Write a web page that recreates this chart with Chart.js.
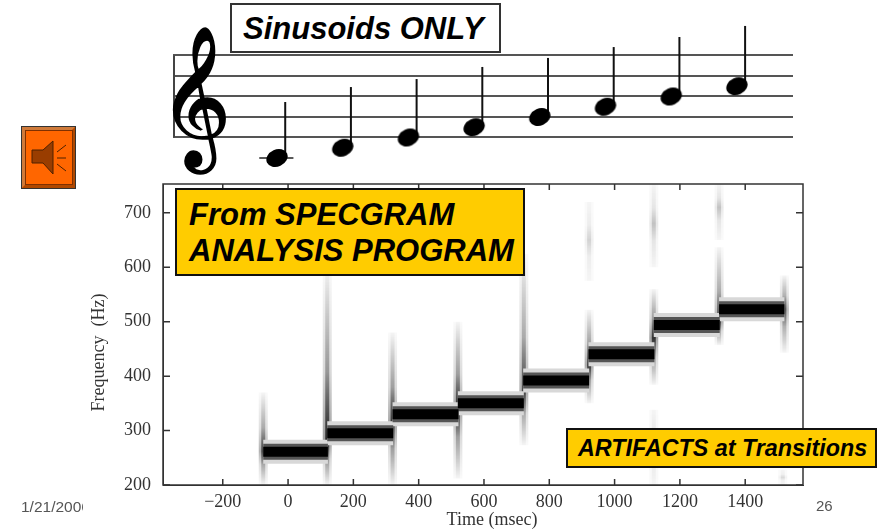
<!DOCTYPE html>
<html lang="en">

<head>
    <meta charset="UTF-8">
    <title>Sinusoids ONLY</title>
    <script src="https://cdn.jsdelivr.net/npm/chart.js"></script>
    <style>
        html,
        body {
            margin: 0;
            padding: 0;
            width: 886px;
            height: 531px;
            overflow: hidden;
            background: #fff;
            font-family: 'Liberation Sans', Arial, sans-serif;
        }

        canvas {
            position: absolute;
            filter: blur(0.4px);
        }

        #spec_canvas {
            left: 0;
            top: 0;
        }

        #staff_canvas {
            left: 173px;
            top: 20px;
        }

        .label-box {
            position: absolute;
            box-sizing: border-box;
            font-weight: bold;
            font-style: italic;
            color: #000;
            white-space: nowrap;
        }

        #box_title {
            left: 230px;
            top: 3px;
            width: 271px;
            height: 50px;
            background: #fff;
            border: 2px solid #333;
            font-size: 31px;
            line-height: 48px;
            padding-left: 11px;
        }

        #box_specgram {
            left: 175px;
            top: 188px;
            width: 350px;
            height: 88px;
            background: #ffcc00;
            border: 2px solid #111;
            font-size: 31px;
            line-height: 36px;
            padding: 7px 0 0 12px;
        }

        #box_artifacts {
            left: 566px;
            top: 428px;
            width: 311px;
            height: 40px;
            background: #ffcc00;
            border: 2px solid #111;
            font-size: 23.3px;
            line-height: 36px;
            padding-left: 10px;
        }

        #slide_date {
            position: absolute;
            left: 21px;
            top: 498px;
            width: 62px;
            overflow: hidden;
            font-size: 15.5px;
            color: #555;
            white-space: nowrap;
        }

        #slide_num {
            position: absolute;
            left: 816px;
            top: 497px;
            font-size: 15px;
            color: #555;
        }

        #clef {
            position: absolute;
            left: 159px;
            top: 11px;
            font-family: 'DejaVu Sans', sans-serif;
            font-size: 122px;
            line-height: 170px;
            color: #000;
            -webkit-text-stroke: 1.6px #000;
        }

        #speaker {
            position: absolute;
            left: 21px;
            top: 126px;
        }
    </style>
</head>

<body>
    <canvas id="spec_canvas" width="886" height="531"></canvas>
    <canvas id="staff_canvas" width="620" height="160"></canvas>
    <div id="clef">&#x1D11E;</div>

    <svg id="speaker" width="55" height="63" viewBox="0 0 55 63">
        <rect x="0.5" y="0.5" width="54" height="62" fill="#ff6600" stroke="#333" />
        <path d="M1 1H54L50 5H5V58L1 62Z" fill="#cf7a3a" />
        <path d="M54 1V62H1L5 58H50V5Z" fill="#b04800" />
        <rect x="4.5" y="4.5" width="47" height="54" fill="#ff6600" stroke="#803000" />
        <path d="M11 24H22L32 15V48L22 37H11Z" fill="#993d00" stroke="#4d2000" />
        <path d="M36 26L45 19M36 32H45M36 38L45 45" stroke="#4d2000" fill="none" />
    </svg>

    <div class="label-box" id="box_title">Sinusoids ONLY</div>
    <div class="label-box" id="box_specgram">From SPECGRAM<br>ANALYSIS PROGRAM</div>
    <div class="label-box" id="box_artifacts">ARTIFACTS at Transitions</div>
    <div id="slide_date">1/21/2006</div>
    <div id="slide_num">26</div>

    <script>
        // spectrogram: one row per note, time in msec and frequency in Hz
        const noteStart = [-76, 120, 320, 520, 720, 920, 1120, 1320];
        const noteEnd = [122, 322, 522, 722, 922, 1122, 1322, 1520];
        const noteFreq = [261, 295, 330, 350, 392, 440, 494, 523];

        // artifacts at the transitions: vertical smears
        const smearTime = [-76, 120, 320, 520, 722, 922, 922, 1120, 1120, 1120, 1320, 1320, 1520, 1515];
        const smearLow = [200, 200, 200, 212, 273, 350, 575, 200, 384, 600, 457, 650, 443, 200];
        const smearHigh = [370, 600, 480, 500, 625, 522, 720, 338, 560, 753, 637, 753, 585, 228];
        const smearPeak = [262, 280, 312, 340, 370, 420, 650, 270, 470, 680, 500, 710, 523, 214];
        const smearDark = [0.6, 0.75, 0.7, 0.7, 0.6, 0.65, 0.12, 0.14, 0.7, 0.17, 0.6, 0.17, 0.55, 0.1];

        const xTicks = [-200, 0, 200, 400, 600, 800, 1000, 1200, 1400];
        const yTicks = [200, 300, 400, 500, 600, 700];

        // staff: y is in staff lines above the bottom one, x is in beats
        const staffLines = [0, 1, 2, 3, 4];
        const noteBeat = [0, 1, 2, 3, 4, 5, 6, 7];
        const notePitch = [-1, -0.5, 0, 0.5, 1, 1.5, 2, 2.5];
        const stemTop = [1.73, 2.46, 2.85, 3.44, 3.88, 4.41, 4.9, 5.44];

        const inkColor = '#333';
        const tickFont = { family: "'Liberation Serif', serif", size: 18 };

        function segment(x0, y0, x1, y1, width, color) {
            return {
                data: [{ x: x0, y: y0 }, { x: x1, y: y1 }],
                borderColor: color,
                borderWidth: width,
                borderCapStyle: 'butt',
                pointRadius: 0,
                fill: false
            };
        }

        function smearColor(i, scale) {
            return function (context) {
                const yScale = context.chart.scales.y;
                if (!yScale || !yScale.height) return '#ccc';
                const top = yScale.getPixelForValue(smearHigh[i]);
                const bottom = yScale.getPixelForValue(smearLow[i]);
                const peak = yScale.getPixelForValue(smearPeak[i]);
                const gradient = context.chart.ctx.createLinearGradient(0, top, 0, bottom);
                const a = smearDark[i] * scale;
                const p = (peak - top) / (bottom - top);
                gradient.addColorStop(0, 'rgba(0,0,0,0.02)');
                gradient.addColorStop(p * 0.6, `rgba(0,0,0,${a * 0.4})`);
                gradient.addColorStop(p, `rgba(0,0,0,${a})`);
                gradient.addColorStop(p + (1 - p) * 0.4, `rgba(0,0,0,${a * 0.4})`);
                gradient.addColorStop(1, 'rgba(0,0,0,0.02)');
                return gradient;
            };
        }

        function specDatasets() {
            const sets = [];
            // first dataset is painted last, so the black core goes first
            noteFreq.forEach((f, i) => sets.push(segment(noteStart[i], f, noteEnd[i], f, 10, '#000')));
            noteFreq.forEach((f, i) => sets.push(segment(noteStart[i], f, noteEnd[i], f, 16, '#555')));
            noteFreq.forEach((f, i) => sets.push(segment(noteStart[i], f, noteEnd[i], f, 24, '#d8d8d8')));
            smearTime.forEach((t, i) => sets.push(segment(t, smearLow[i], t, smearHigh[i], 4, smearColor(i, 1))));
            smearTime.forEach((t, i) => sets.push(segment(t, smearLow[i], t, smearHigh[i], 9, smearColor(i, 0.5))));
            return sets;
        }

        // ticks point inward on all four sides, and the frame is closed
        const frameTicks = {
            id: 'frameTicks',
            afterDraw(chart) {
                const { ctx, chartArea: a, scales } = chart;
                ctx.save();
                ctx.strokeStyle = inkColor;
                ctx.lineWidth = 1.5;
                ctx.strokeRect(a.left, a.top, a.width, a.height);
                ctx.beginPath();
                scales.x.ticks.forEach(t => {
                    const px = scales.x.getPixelForValue(t.value);
                    ctx.moveTo(px, a.bottom); ctx.lineTo(px, a.bottom - 6);
                    ctx.moveTo(px, a.top); ctx.lineTo(px, a.top + 6);
                });
                scales.y.ticks.forEach(t => {
                    const py = scales.y.getPixelForValue(t.value);
                    ctx.moveTo(a.left, py); ctx.lineTo(a.left + 7, py);
                    ctx.moveTo(a.right, py); ctx.lineTo(a.right - 7, py);
                });
                ctx.stroke();
                ctx.restore();
            }
        };

        new Chart(document.getElementById('spec_canvas'), {
            type: 'line',
            data: { datasets: specDatasets() },
            plugins: [frameTicks],
            options: {
                responsive: false,
                animation: false,
                layout: { autoPadding: false, padding: { left: 85, right: 83, top: 184, bottom: 0 } },
                plugins: { legend: { display: false }, tooltip: { enabled: false } },
                scales: {
                    x: {
                        type: 'linear',
                        min: -383,
                        max: 1577,
                        afterBuildTicks(scale) { scale.ticks = xTicks.map(v => ({ value: v })); },
                        afterFit(scale) { scale.height = 46; },
                        grid: { drawOnChartArea: false, drawTicks: false },
                        border: { color: inkColor },
                        title: {
                            display: true,
                            // leading spaces push the centred title right of the plot centre
                            text: '    Time (msec)',
                            color: inkColor,
                            font: tickFont,
                            padding: { top: 0, bottom: 0 }
                        },
                        ticks: {
                            autoSkip: false,
                            maxRotation: 0,
                            padding: 6,
                            color: inkColor,
                            font: tickFont,
                            callback: value => String(value).replace('-', '\u2212')
                        }
                    },
                    y: {
                        type: 'linear',
                        min: 200,
                        max: 753,
                        afterBuildTicks(scale) { scale.ticks = yTicks.map(v => ({ value: v })); },
                        afterFit(scale) { scale.width = 78; },
                        grid: { drawOnChartArea: false, drawTicks: false },
                        border: { color: inkColor },
                        title: {
                            display: true,
                            // trailing spaces push the rotated title below the plot centre
                            text: 'Frequency  (Hz)        ',
                            color: inkColor,
                            font: tickFont,
                            padding: { top: 3, bottom: 11 }
                        },
                        ticks: {
                            padding: 12,
                            color: inkColor,
                            font: tickFont
                        }
                    }
                }
            }
        });

        // note head is a tilted ellipse, used as the point image
        function noteHead() {
            const c = document.createElement('canvas');
            c.width = 24;
            c.height = 22;
            const g = c.getContext('2d');
            g.fillStyle = '#000';
            g.ellipse(12, 11, 11, 8.5, -0.42, 0, 2 * Math.PI);
            g.fill();
            return c;
        }

        function staffDatasets() {
            const head = noteHead();
            const sets = [{
                data: noteBeat.map((b, i) => ({ x: b, y: notePitch[i] })),
                showLine: false,
                pointStyle: head,
                pointRadius: 11
            }];
            // stems sit on the right edge of the head
            noteBeat.forEach((b, i) => sets.push(segment(b + 0.125, notePitch[i], b + 0.125, stemTop[i], 2, '#111')));
            // ledger line under the first note and the bar line at the left end of the staff
            sets.push(segment(-0.27, -1, 0.25, -1, 1.5, '#222'));
            sets.push(segment(-1.583, 0, -1.583, 4, 4, '#444'));
            return sets;
        }

        new Chart(document.getElementById('staff_canvas'), {
            type: 'line',
            data: { datasets: staffDatasets() },
            options: {
                responsive: false,
                animation: false,
                layout: { autoPadding: false, padding: 0 },
                plugins: { legend: { display: false }, tooltip: { enabled: false } },
                scales: {
                    x: { type: 'linear', min: -1.583, max: 7.854, display: false },
                    y: {
                        type: 'linear',
                        min: -2.073,
                        max: 5.73,
                        afterBuildTicks(scale) { scale.ticks = staffLines.map(v => ({ value: v })); },
                        afterFit(scale) { scale.width = 0; },
                        border: { display: false },
                        grid: { color: '#555', lineWidth: 2, drawTicks: false },
                        ticks: { display: false }
                    }
                }
            }
        });
    </script>

</body>

</html>
